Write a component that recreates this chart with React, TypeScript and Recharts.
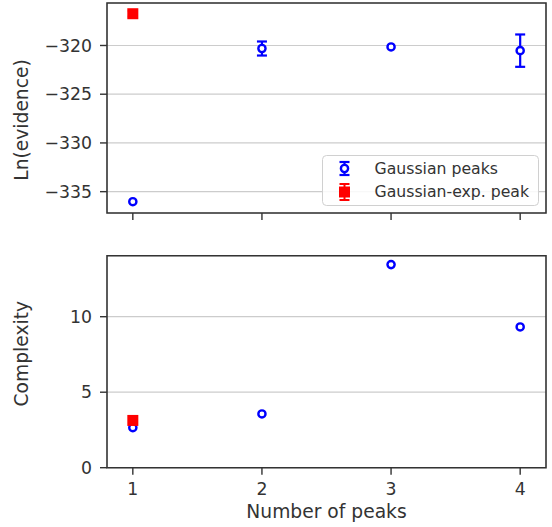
import React from 'react';
import {
  ScatterChart,
  Scatter,
  XAxis,
  YAxis,
  CartesianGrid,
  ErrorBar,
  ReferenceArea,
  Label,
} from 'recharts';

// ---- data ----
const peaks = [1, 2, 3, 4];
const gaussEvidence = [-336.03, -320.31, -320.15, -320.53];
const gaussEvidenceErr = [0, 0.72, 0, 1.66];
const gaussComplexity = [2.65, 3.56, 13.45, 9.32];

const expPeaks = [1];
const expEvidence = [-316.74];
const expEvidenceErr = [0.3];
const expComplexity = [3.13];

const xTicks = [1, 2, 3, 4];
const evidenceTicks = [-335, -330, -325, -320];
const complexityTicks = [0, 5, 10];

const seriesNames = ['Gaussian peaks', 'Gaussian-exp. peak'];

const xDomain: [number, number] = [0.8, 4.2];
const evidenceDomain: [number, number] = [-337.19, -315.64];
const complexityDomain: [number, number] = [0, 14.04];

const gaussEvData = peaks.map((x, i) => ({ x, y: gaussEvidence[i], err: gaussEvidenceErr[i] }));
const expEvData = expPeaks.map((x, i) => ({ x, y: expEvidence[i], err: expEvidenceErr[i] }));
const gaussCxData = peaks.map((x, i) => ({ x, y: gaussComplexity[i] }));
const expCxData = expPeaks.map((x, i) => ({ x, y: expComplexity[i] }));

// ---- styles ----
const FONT = '"DejaVu Sans", sans-serif';
const TEXT = '#333333';
const SPINE = '#333333';
const GRID = '#cccccc';
const BLUE = '#0000ff';
const RED = '#ff0000';

const minusFmt = (v: number) => String(v).replace('-', '\u2212');

const circleShape = (p: any) => (
  <circle cx={p.cx} cy={p.cy} r={3.6} fill="#ffffff" stroke={BLUE} strokeWidth={2.4} />
);
const squareShape = (p: any) => (
  <rect x={p.cx - 5.5} y={p.cy - 5.5} width={11} height={11} fill={RED} />
);

const yLabel = (text: string, shift: number) => (props: any) => {
  const vb = props.viewBox || { x: 0, y: 0, width: 0, height: 0 };
  const cx = vb.x + 21.5;
  const cy = vb.y + vb.height / 2 + shift;
  return (
    <text
      x={cx}
      y={cy}
      transform={`rotate(-90 ${cx} ${cy})`}
      textAnchor="middle"
      dominantBaseline="central"
      fill={TEXT}
      fontSize={18.7}
      fontFamily={FONT}
    >
      {text}
    </text>
  );
};

const LegendBox = () => (
  <svg width={217} height={51} style={{ display: 'block' }}>
    <rect x={0.5} y={0.5} width={216} height={50} rx={4} ry={4} fill="rgba(255,255,255,0.85)" stroke="#d0d0d0" strokeWidth={1} />
    <g stroke={BLUE} strokeWidth={2.2}>
      <line x1={22.5} y1={7} x2={22.5} y2={20} />
      <line x1={17.5} y1={7} x2={27.5} y2={7} />
      <line x1={17.5} y1={20} x2={27.5} y2={20} />
      <circle cx={22.5} cy={13.5} r={3.6} fill="#ffffff" strokeWidth={2.4} />
    </g>
    <g stroke={RED} strokeWidth={2}>
      <line x1={22.5} y1={29} x2={22.5} y2={45} />
      <line x1={17.5} y1={29} x2={27.5} y2={29} />
      <line x1={17.5} y1={45} x2={27.5} y2={45} />
    </g>
    <rect x={17} y={31.5} width={11} height={11} fill={RED} />
    <text x={52.5} y={13.5} dominantBaseline="central" fill={TEXT} fontSize={15.7} fontFamily={FONT}>
      {seriesNames[0]}
    </text>
    <text x={52.5} y={36.8} dominantBaseline="central" fill={TEXT} fontSize={15.7} fontFamily={FONT}>
      {seriesNames[1]}
    </text>
  </svg>
);

const tickStyle = { fill: TEXT, fontSize: 17.3, fontFamily: FONT };

export default function App() {
  return (
    <div style={{ position: 'absolute', left: 0, top: 0, width: 552, height: 527, background: '#fff', fontFamily: FONT }}>
      <div style={{ position: 'absolute', left: 0, top: 0 }}>
        <ScatterChart width={552} height={240} margin={{ top: 3, right: 6, left: 0, bottom: 0 }}>
          <CartesianGrid vertical={false} stroke={GRID} strokeWidth={1.2} />
          <XAxis
            type="number"
            dataKey="x"
            domain={xDomain}
            allowDataOverflow
            ticks={xTicks}
            interval={0}
            height={27}
            axisLine={false}
            tickLine={{ stroke: SPINE, strokeWidth: 1.4 }}
            tickSize={7}
            tickFormatter={() => ''}
          />
          <YAxis
            type="number"
            dataKey="y"
            domain={evidenceDomain}
            allowDataOverflow
            ticks={evidenceTicks}
            interval={0}
            width={107}
            axisLine={false}
            tickLine={{ stroke: SPINE, strokeWidth: 1.4 }}
            tickSize={7}
            tickMargin={8}
            tick={tickStyle}
            tickFormatter={minusFmt}
          >
            <Label content={yLabel('Ln(evidence)', 12)} />
          </YAxis>
          <ReferenceArea
            x1={xDomain[0]}
            x2={xDomain[1]}
            y1={evidenceDomain[0]}
            y2={evidenceDomain[1]}
            fill="none"
            stroke={SPINE}
            strokeWidth={1.6}
            ifOverflow="visible"
          />
          <Scatter name={seriesNames[0]} data={gaussEvData} shape={circleShape} isAnimationActive={false}>
            <ErrorBar dataKey="err" direction="y" width={5} stroke={BLUE} strokeWidth={2.2} />
          </Scatter>
          <Scatter name={seriesNames[1]} data={expEvData} shape={squareShape} isAnimationActive={false}>
            <ErrorBar dataKey="err" direction="y" width={5} stroke={RED} strokeWidth={2} />
          </Scatter>
        </ScatterChart>
        <div style={{ position: 'absolute', left: 322, top: 155 }}>
          <LegendBox />
        </div>
      </div>
      <div style={{ position: 'absolute', left: 0, top: 240 }}>
        <ScatterChart width={552} height={287} margin={{ top: 15.7, right: 6, left: 0, bottom: 0 }}>
          <CartesianGrid vertical={false} stroke={GRID} strokeWidth={1.2} />
          <XAxis
            type="number"
            dataKey="x"
            domain={xDomain}
            allowDataOverflow
            ticks={xTicks}
            interval={0}
            height={59.3}
            axisLine={false}
            tickLine={{ stroke: SPINE, strokeWidth: 1.4 }}
            tickSize={7}
            tickMargin={8}
            tick={tickStyle}
          >
            <Label
              value="Number of peaks"
              position="insideBottom"
              offset={9}
              fill={TEXT}
              fontSize={18.7}
              fontFamily={FONT}
            />
          </XAxis>
          <YAxis
            type="number"
            dataKey="y"
            domain={complexityDomain}
            allowDataOverflow
            ticks={complexityTicks}
            interval={0}
            width={107}
            axisLine={false}
            tickLine={{ stroke: SPINE, strokeWidth: 1.4 }}
            tickSize={7}
            tickMargin={8}
            tick={tickStyle}
          >
            <Label content={yLabel('Complexity', -8)} />
          </YAxis>
          <ReferenceArea
            x1={xDomain[0]}
            x2={xDomain[1]}
            y1={complexityDomain[0]}
            y2={complexityDomain[1]}
            fill="none"
            stroke={SPINE}
            strokeWidth={1.6}
            ifOverflow="visible"
          />
          <Scatter name={seriesNames[0]} data={gaussCxData} shape={circleShape} isAnimationActive={false} />
          <Scatter name={seriesNames[1]} data={expCxData} shape={squareShape} isAnimationActive={false} />
        </ScatterChart>
      </div>
    </div>
  );
}
